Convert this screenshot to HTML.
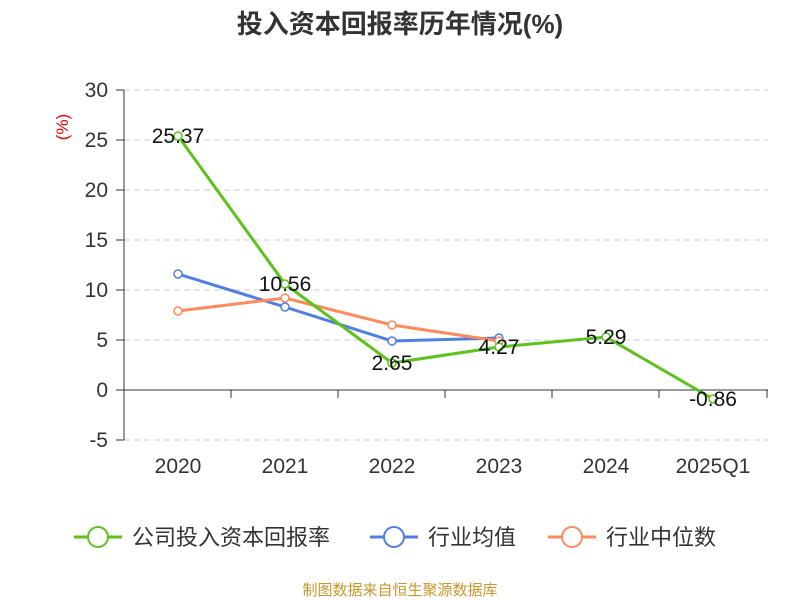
<!DOCTYPE html>
<html><head><meta charset="utf-8"><style>body{margin:0;background:#fff}svg{display:block}text{font-family:"Liberation Sans","Noto Sans CJK SC",sans-serif}</style></head><body>
<svg width="800" height="600" xmlns="http://www.w3.org/2000/svg">
<text x="400" y="33" text-anchor="middle" font-size="26" font-weight="bold" fill="#333">投入资本回报率历年情况(%)</text>
<text transform="translate(68,127) rotate(-90)" text-anchor="middle" font-size="17" fill="#e00">(%)</text>
<g stroke="#ccc" stroke-dasharray="6,4" stroke-width="1">
<line x1="124" y1="90" x2="768" y2="90"/><line x1="124" y1="140" x2="768" y2="140"/><line x1="124" y1="190" x2="768" y2="190"/><line x1="124" y1="240" x2="768" y2="240"/><line x1="124" y1="290" x2="768" y2="290"/><line x1="124" y1="340" x2="768" y2="340"/><line x1="124" y1="440" x2="768" y2="440"/>
</g>
<g stroke="#333" stroke-width="1">
<line x1="124" y1="90" x2="124" y2="440"/>
<line x1="116" y1="90" x2="124" y2="90"/><line x1="116" y1="140" x2="124" y2="140"/><line x1="116" y1="190" x2="124" y2="190"/><line x1="116" y1="240" x2="124" y2="240"/><line x1="116" y1="290" x2="124" y2="290"/><line x1="116" y1="340" x2="124" y2="340"/><line x1="116" y1="390" x2="124" y2="390"/><line x1="116" y1="440" x2="124" y2="440"/>
<line x1="124" y1="390" x2="768" y2="390"/>
<line x1="124" y1="390" x2="124" y2="398"/><line x1="231" y1="390" x2="231" y2="398"/><line x1="338" y1="390" x2="338" y2="398"/><line x1="445" y1="390" x2="445" y2="398"/><line x1="552" y1="390" x2="552" y2="398"/><line x1="659" y1="390" x2="659" y2="398"/><line x1="767" y1="390" x2="767" y2="398"/>
</g>
<g font-size="21" fill="#333" text-anchor="end">
<text x="108" y="97">30</text><text x="108" y="147">25</text><text x="108" y="197">20</text><text x="108" y="247">15</text><text x="108" y="297">10</text><text x="108" y="347">5</text><text x="108" y="397">0</text><text x="108" y="447">-5</text>
</g>
<g font-size="21" fill="#333" text-anchor="middle">
<text x="178" y="473">2020</text><text x="285" y="473">2021</text><text x="392" y="473">2022</text><text x="499" y="473">2023</text><text x="606" y="473">2024</text><text x="713" y="473">2025Q1</text>
</g>
<polyline fill="none" stroke="#4e7fe0" stroke-width="3" points="178,274 285,307 392,341 499,338"/>
<polyline fill="none" stroke="#fb8b5a" stroke-width="3" points="178,311 285,298 392,325 499,341"/>
<polyline fill="none" stroke="#5cc21c" stroke-width="3" points="178,136 285,284 392,363 499,347 606,337 713,399"/>
<g fill="#fff" stroke="#4e7fe0" stroke-width="1.5"><circle cx="178" cy="274" r="4"/><circle cx="285" cy="307" r="4"/><circle cx="392" cy="341" r="4"/><circle cx="499" cy="338" r="4"/></g>
<g fill="#fff" stroke="#fb8b5a" stroke-width="1.5"><circle cx="178" cy="311" r="4"/><circle cx="285" cy="298" r="4"/><circle cx="392" cy="325" r="4"/><circle cx="499" cy="341" r="4"/></g>
<g fill="#fff" stroke="#5cc21c" stroke-width="1.5"><circle cx="178" cy="136" r="4"/><circle cx="285" cy="284" r="4"/><circle cx="392" cy="363" r="4"/><circle cx="499" cy="347" r="4"/><circle cx="606" cy="337" r="4"/><circle cx="713" cy="399" r="4"/></g>
<g font-size="21" fill="#111" text-anchor="middle">
<text x="178" y="143">25.37</text><text x="285" y="291">10.56</text><text x="392" y="370">2.65</text><text x="499" y="354">4.27</text><text x="606" y="344">5.29</text><text x="713" y="406">-0.86</text>
</g>
<g font-size="22" fill="#333">
<line x1="74" y1="537" x2="122" y2="537" stroke="#5cc21c" stroke-width="3"/><circle cx="98" cy="537" r="10" fill="#fff" stroke="#5cc21c" stroke-width="2"/>
<text x="132" y="545">公司投入资本回报率</text>
<line x1="370" y1="537" x2="418" y2="537" stroke="#4e7fe0" stroke-width="3"/><circle cx="394" cy="537" r="10" fill="#fff" stroke="#4e7fe0" stroke-width="2"/>
<text x="428" y="545">行业均值</text>
<line x1="548" y1="537" x2="596" y2="537" stroke="#fb8b5a" stroke-width="3"/><circle cx="572" cy="537" r="10" fill="#fff" stroke="#fb8b5a" stroke-width="2"/>
<text x="606" y="545">行业中位数</text>
</g>
<text x="400" y="595" text-anchor="middle" font-size="15" fill="#c9962a">制图数据来自恒生聚源数据库</text>
</svg>
</body></html>
